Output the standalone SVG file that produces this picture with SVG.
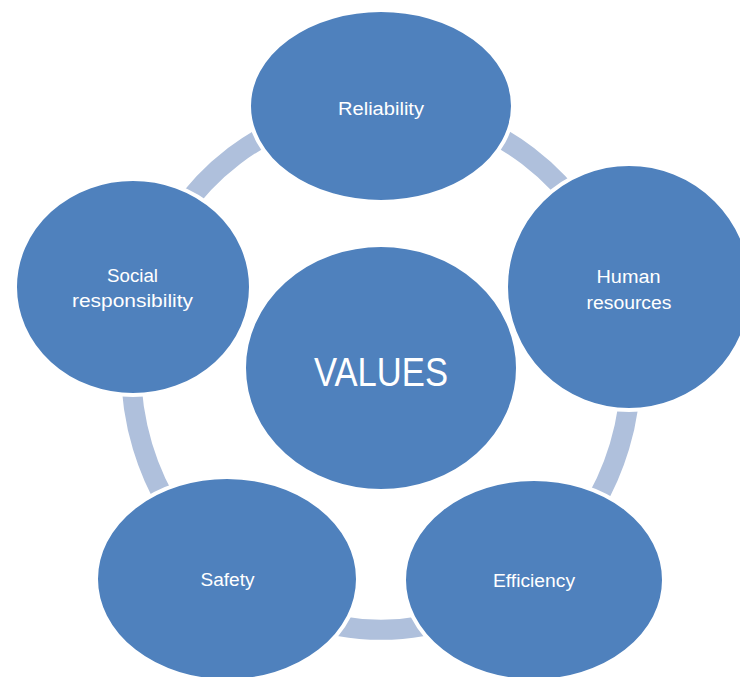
<svg xmlns="http://www.w3.org/2000/svg" width="740" height="677" viewBox="0 0 740 677">
<style>
.node{fill:#4f81bd;stroke:#ffffff;stroke-width:4}
.ring{fill:none;stroke:#afc0dc;stroke-width:20}
.lbl{font-family:"Liberation Sans",Arial,sans-serif;font-size:18px;fill:#ffffff;text-anchor:middle}
.big{font-family:"Liberation Sans",Arial,sans-serif;font-size:40px;fill:#ffffff;text-anchor:middle}
</style>
<rect width="740" height="677" fill="#ffffff"/>
<g id="connectors">
<path class="ring" d="M381,106 A250,262 0 0 1 618.8,287"/>
<path class="ring" d="M618.8,287 A250,262 0 0 1 531.5,577"/>
<path class="ring" d="M531.5,577 A250,262 0 0 1 230.5,577"/>
<path class="ring" d="M230.5,577 A250,262 0 0 1 143.2,287"/>
<path class="ring" d="M143.2,287 A250,262 0 0 1 381,106"/>
</g>
<g id="values">
<ellipse class="node" cx="381" cy="368" rx="137" ry="123"/>
<text class="big" x="381" y="386" textLength="134" lengthAdjust="spacingAndGlyphs">VALUES</text>
</g>
<g id="reliability">
<ellipse class="node" cx="381" cy="106" rx="132" ry="96"/>
<text class="lbl" x="381" y="115" textLength="86" lengthAdjust="spacingAndGlyphs">Reliability</text>
</g>
<g id="human-resources">
<ellipse class="node" cx="629" cy="287" rx="123" ry="123"/>
<text class="lbl" x="628.5" y="283" textLength="64" lengthAdjust="spacingAndGlyphs">Human</text>
<text class="lbl" x="629" y="309" textLength="85" lengthAdjust="spacingAndGlyphs">resources</text>
</g>
<g id="efficiency">
<ellipse class="node" cx="534" cy="580" rx="130" ry="101"/>
<text class="lbl" x="534" y="587" textLength="82" lengthAdjust="spacingAndGlyphs">Efficiency</text>
</g>
<g id="safety">
<ellipse class="node" cx="227" cy="579" rx="131" ry="102"/>
<text class="lbl" x="227.5" y="586" textLength="54" lengthAdjust="spacingAndGlyphs">Safety</text>
</g>
<g id="social-responsibility">
<ellipse class="node" cx="133" cy="287" rx="118" ry="108"/>
<text class="lbl" x="132.5" y="282" textLength="51" lengthAdjust="spacingAndGlyphs">Social</text>
<text class="lbl" x="132.5" y="307" textLength="121" lengthAdjust="spacingAndGlyphs">responsibility</text>
</g>
</svg>
